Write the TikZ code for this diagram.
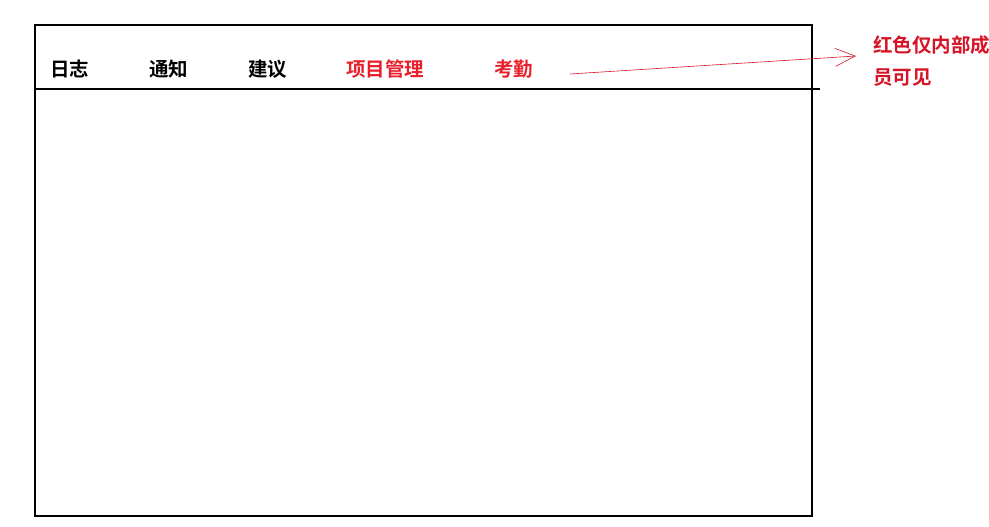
\documentclass[tikz,border=0pt]{standalone}
\usepackage{fontspec}
\newfontfamily\cjk{Noto Sans CJK SC}[BoldFont={Noto Sans CJK SC Bold}]
\usetikzlibrary{arrows.meta,positioning}
\definecolor{tabred}{RGB}{232,32,44}
\definecolor{notered}{RGB}{214,20,40}
\begin{document}
\begin{tikzpicture}
		[x=1pt,y=-1pt,
		tab/.style={anchor=west,inner sep=0pt,font=\cjk\bfseries\fontsize{19.5}{22}\selectfont},
		hidden/.style={tab,text=tabred},
		note/.style={anchor=west,inner sep=0pt,text=notered,font=\cjk\bfseries\fontsize{19.5}{22}\selectfont}
		]
		\useasboundingbox (0,0) rectangle (989,527);
		% frame and header line
		\draw[line width=1.2pt] (35,25) rectangle (812,516);
		\draw[line width=1.6pt] (35,89) -- (820,89);
		% tabs
		\node[tab] (log) at (50,69) {日志};
		\node[tab] (notice) at (149,69) {通知};
		\node[tab] (advice) at (248,69) {建议};
		\node[hidden] (project) at (346,69) {项目管理};
		\node[hidden] (attend) at (494,69) {考勤};
		% remark
		\node[note] (remark) at (873,45) {红色仅内部成};
		\node[note,below=14pt of remark.south west,anchor=north west] (remark2) {员可见};
		\coordinate (from) at (570,74);
		\coordinate (tip) at (856,56);
		\draw[notered,line width=0.6pt,-{Straight Barb[length=20pt,width=18pt]}] (from) -- (tip);
\end{tikzpicture}
\end{document}
